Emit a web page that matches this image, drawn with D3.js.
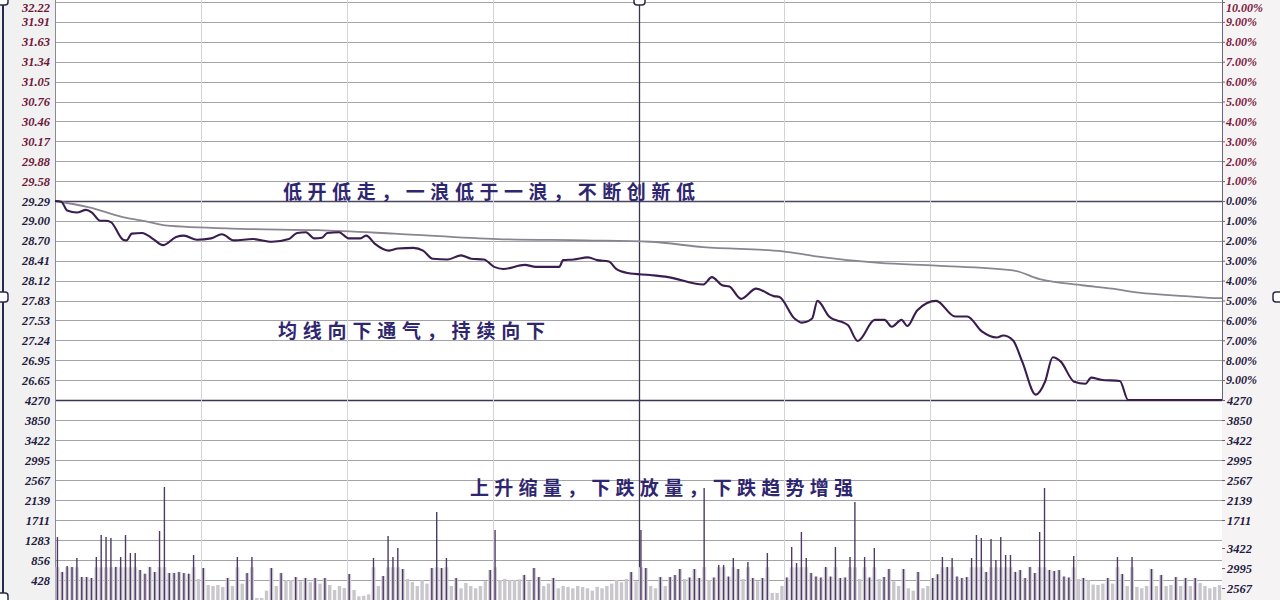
<!DOCTYPE html>
<html><head><meta charset="utf-8">
<script src="https://cdn.jsdelivr.net/npm/d3@7"></script>
<style>
html,body{margin:0;padding:0;background:#fbfbfb;}
svg{display:block;}
</style></head>
<body><svg id="c" width="1280" height="600"></svg>
<script>
// ---------- data ----------
const prevClose = 29.29;
const priceTickLabels = ["32.22","31.91","31.63","31.34","31.05","30.76","30.46","30.17","29.88","29.58","29.29","29.00","28.70","28.41","28.12","27.83","27.53","27.24","26.95","26.65"];
const pctTickLabels = ["10.00%","9.00%","8.00%","7.00%","6.00%","5.00%","4.00%","3.00%","2.00%","1.00%","0.00%","1.00%","2.00%","3.00%","4.00%","5.00%","6.00%","7.00%","8.00%","9.00%"];
const volTickValues = [4270,3843,3416,2989,2562,2135,1708,1281,854,427];
const volTickLabelsLeft = ["4270","3850","3422","2995","2567","2139","1711","1283","856","428"];
const volTickLabelsRight = ["4270","3850","3422","2995","2567","2139","1711"];
const volExtraRightValues = [1110,683,256];
const volExtraRightLabels = ["3422","2995","2567"];

const priceMinutes = [0,1.3,2.5,4.5,6.4,7.6,9.3,10.4,11.5,14,14.7,15.8,17.9,20.2,22.2,24.9,26.5,29.2,32.1,34.3,36.8,40.7,44.6,48.1,49.8,51.6,53.3,54.9,56,58.4,60.4,62.7,64,65.8,68.7,70.5,73.7,75.7,77.7,80.8,83.5,85.6,88.2,90.3,92.2,96.6,98.9,103.7,104.5,106.7,109.6,111.5,113.9,115.4,117.8,122.4,126.1,133.3,135.1,137.2,138.7,141.1,144.2,147.8,148.9,152.1,153.6,155.7,156.8,159.2,163.1,165.1,168.6,170.6,172.1,174.1,175.3,177.3,181.2,185.1,187.6,190.6,193.7,195,197,198.9,201.7,203.6,205.2,206.8,209.6,211.9,213.1,215.1,219,220.7,240];
const priceValues = [29.29,29.28,29.15,29.12,29.16,29.12,29.00,29.00,28.98,28.72,28.71,28.81,28.82,28.73,28.64,28.76,28.78,28.72,28.74,28.80,28.71,28.73,28.69,28.73,28.82,28.83,28.74,28.75,28.82,28.83,28.74,28.74,28.78,28.66,28.56,28.59,28.60,28.56,28.44,28.43,28.49,28.44,28.43,28.32,28.29,28.35,28.32,28.32,28.42,28.43,28.46,28.42,28.40,28.29,28.23,28.20,28.17,28.06,28.17,28.05,28.03,27.85,28.00,27.89,27.88,27.56,27.50,27.56,27.82,27.59,27.46,27.23,27.54,27.54,27.44,27.54,27.45,27.68,27.82,27.59,27.59,27.37,27.28,27.31,27.24,26.93,26.44,26.63,26.99,26.93,26.63,26.60,26.69,26.66,26.64,26.36,26.36];

const avgMinutes = [0,6.8,14.7,19.4,22.6,38.3,54.1,69.7,91.1,109.2,122.4,133.3,149.7,156.1,169.5,181.2,197,202.5,211.2,217.4,222.9,232.4,239.4,240];
const avgValues = [29.29,29.20,29.04,28.98,28.93,28.88,28.86,28.81,28.73,28.71,28.69,28.61,28.55,28.48,28.38,28.34,28.27,28.14,28.05,28.00,27.94,27.89,27.86,27.86];

const volumes = [
1345,600,726,705,897,491,491,470,918,1388,
1345,1324,705,918,1388,1003,1003,641,560,705,
598,1473,2412,576,576,600,576,560,961,450,
683,320,300,320,280,470,300,918,350,576,
918,43,43,200,683,300,576,427,427,491,
400,470,380,470,350,470,320,214,300,256,
555,214,80,90,120,897,300,513,1366,918,
1110,662,450,384,300,427,350,683,1879,683,
897,300,470,250,363,300,250,300,400,641,
1495,427,450,427,427,440,534,400,683,491,
300,350,470,250,300,280,250,300,278,250,
200,280,250,300,350,427,380,450,598,400,
1495,683,300,250,491,300,491,534,662,450,
480,662,470,2391,427,480,747,747,500,897,
662,450,811,470,400,470,1003,150,150,300,
480,1132,790,1452,897,576,500,480,705,500,
1132,470,480,918,2092,450,918,480,1110,450,
491,662,400,300,662,250,200,598,250,300,
470,550,918,705,897,500,470,490,897,1388,
1324,600,1302,854,1345,961,961,600,641,470,
705,576,1452,2391,641,620,641,500,480,939,
450,470,420,330,320,350,470,350,918,555,
300,918,280,250,300,662,300,534,300,320,
491,300,470,300,470,363,300,250,280,320];

const notes = [
  {text:"低开低走，一浪低于一浪，不断创新低", x0:283, x1:695, y:199},
  {text:"均线向下通气，持续向下", x0:278, x1:545, y:338},
  {text:"上升缩量，下跌放量，下跌趋势增强", x0:470, x1:853, y:495}
];

// ---------- drawing ----------
const svg = d3.select("#c");
const L = 55, R = 1222, PT = 2, PB = 400, VB = 600;
const x = d3.scaleLinear().domain([0,240]).range([L,R]);
const yP = d3.scaleLinear().domain([prevClose*0.9, prevClose*1.1]).range([PB,PT]);
const yV = d3.scaleLinear().domain([0,4270]).range([VB,PB]);

// label strips
svg.append("rect").attr("x",0).attr("y",0).attr("width",L).attr("height",600).attr("fill","#f1f1f2");
svg.append("rect").attr("x",R).attr("y",0).attr("width",1280-R).attr("height",600).attr("fill","#f6f3f4");
svg.append("rect").attr("x",L).attr("y",0).attr("width",R-L).attr("height",600).attr("fill","#ffffff");

const pctVals = d3.range(10,-10,-1);               // 10 .. -9
const priceTickVals = pctVals.map(p => prevClose*(1+p/100));

// horizontal gridlines (price)
svg.append("g").selectAll("line").data(priceTickVals).join("line")
  .attr("x1",L).attr("x2",R)
  .attr("y1",d=>Math.round(yP(d))+0.5).attr("y2",d=>Math.round(yP(d))+0.5)
  .attr("stroke",(d,i)=> pctVals[i]===0 ? "#4a4560" : "#a3a3a8").attr("stroke-width",(d,i)=>pctVals[i]===0?1.4:1.1);
// horizontal gridlines (volume)
svg.append("g").selectAll("line").data(volTickValues).join("line")
  .attr("x1",L).attr("x2",R)
  .attr("y1",d=>Math.round(yV(d))+0.5).attr("y2",d=>Math.round(yV(d))+0.5)
  .attr("stroke",(d,i)=> i===0 ? "#3a3550" : "#a3a3a8").attr("stroke-width",(d,i)=>i===0?1.6:1.1);

// vertical gridlines
const vMin = d3.range(30,240,30);
svg.append("g").selectAll("line").data(vMin).join("line")
  .attr("x1",d=>Math.round(x(d))+0.5).attr("x2",d=>Math.round(x(d))+0.5)
  .attr("y1",0).attr("y2",600)
  .attr("stroke",d=> d===120 ? "#3a3550" : "#d4d4d8").attr("stroke-width",d=>d===120?1.3:1);
svg.append("line").attr("x1",L+0.5).attr("x2",L+0.5).attr("y1",0).attr("y2",600).attr("stroke","#8a8a94");
svg.append("line").attr("x1",R+0.5).attr("x2",R+0.5).attr("y1",0).attr("y2",PB).attr("stroke","#6a6478");

// volume bars
const minutes = d3.range(volumes.length);
const darkThr = 460;
svg.append("g").selectAll("rect").data(minutes.filter(m=>volumes[m]<darkThr)).join("rect")
  .attr("x",m=>x(m+0.5)-1.7).attr("width",3.4)
  .attr("y",m=>yV(volumes[m])).attr("height",m=>VB-yV(volumes[m]))
  .attr("fill","#c9c7cc");
svg.append("g").selectAll("rect").data(minutes.filter(m=>volumes[m]>=darkThr)).join("rect")
  .attr("x",m=>x(m+0.5)-2).attr("width",4)
  .attr("y",m=>yV(Math.min(volumes[m],700))).attr("height",m=>VB-yV(Math.min(volumes[m],700)))
  .attr("fill","#d2d0d5");
svg.append("g").selectAll("line").data(minutes.filter(m=>volumes[m]>=darkThr)).join("line")
  .attr("x1",m=>x(m+0.5)).attr("x2",m=>x(m+0.5))
  .attr("y1",m=>yV(volumes[m])).attr("y2",VB)
  .attr("stroke","#4e3a66").attr("stroke-width",1.4);

// average line
const avgLine = d3.line().x((d,i)=>x(avgMinutes[i])).y(d=>yP(d)).curve(d3.curveMonotoneX);
svg.append("path").attr("d",avgLine(avgValues)).attr("fill","none")
  .attr("stroke","#8a8590").attr("stroke-width",1.8);
// price line
const pLine = d3.line().x((d,i)=>x(priceMinutes[i])).y(d=>yP(d)).curve(d3.curveMonotoneX);
svg.append("path").attr("d",pLine(priceValues)).attr("fill","none")
  .attr("stroke","#3a1d4e").attr("stroke-width",2.1).attr("stroke-linejoin","round");

// axes labels
const lblFont = "'Liberation Serif', serif";
function styleLbl(sel, colorFn){
  sel.selectAll("text").attr("font-family",lblFont).attr("font-weight","bold").attr("font-size",12.5)
    .attr("font-style","italic").attr("fill",colorFn);
}
const leftAx = d3.axisLeft(yP).tickValues(priceTickVals).tickSize(0).tickPadding(5)
  .tickFormat((d,i)=>priceTickLabels[i]);
const gl = svg.append("g").attr("transform",`translate(${L},0)`).call(leftAx);
gl.select(".domain").remove();
styleLbl(gl,(d,i)=> pctVals[i]>0 ? "#6e1838" : "#1e1a40");
gl.selectAll("text").filter((d,i)=>i===0).attr("dy","0.75em");

const leftVAx = d3.axisLeft(yV).tickValues(volTickValues).tickSize(0).tickPadding(5)
  .tickFormat((d,i)=>volTickLabelsLeft[i]);
const glv = svg.append("g").attr("transform",`translate(${L},0)`).call(leftVAx);
glv.select(".domain").remove();
styleLbl(glv,"#1e1a40");

const rightAx = d3.axisRight(yP).tickValues(priceTickVals).tickSize(3).tickPadding(1)
  .tickFormat((d,i)=>pctTickLabels[i]);
const gr = svg.append("g").attr("transform",`translate(${R},0)`).call(rightAx);
gr.select(".domain").remove();
gr.selectAll("line").attr("stroke","#6a6478");
styleLbl(gr,(d,i)=> pctVals[i]>0 ? "#7a1a3c" : "#1e1a40");
gr.selectAll("text").attr("font-size",12);
gr.selectAll("text").filter((d,i)=>i===0).attr("dy","0.75em");

const rightVAx = d3.axisRight(yV).tickValues(volTickValues.slice(0,7)).tickSize(3).tickPadding(2)
  .tickFormat((d,i)=>volTickLabelsRight[i]);
const grv = svg.append("g").attr("transform",`translate(${R},0)`).call(rightVAx);
grv.select(".domain").remove();
grv.selectAll("line").attr("stroke","#6a6478");
styleLbl(grv,"#1e1a40");

const rightVAx2 = d3.axisRight(yV).tickValues(volExtraRightValues).tickSize(3).tickPadding(2)
  .tickFormat((d,i)=>volExtraRightLabels[i]);
const grv2 = svg.append("g").attr("transform",`translate(${R},0)`).call(rightVAx2);
grv2.select(".domain").remove();
grv2.selectAll("line").attr("stroke","#6a6478");
styleLbl(grv2,"#1e1a40");

// annotations
svg.append("g").selectAll("text").data(notes).join("text")
  .attr("x",d=>d.x0).attr("y",d=>d.y)
  .attr("textLength",d=>d.x1-d.x0).attr("lengthAdjust","spacing")
  .attr("font-family","'Noto Sans CJK SC', sans-serif").attr("font-size",19).attr("font-weight",700)
  .attr("fill","#2f2670").text(d=>d.text);

// frame / selection handles
svg.append("line").attr("x1",3).attr("x2",3).attr("y1",0).attr("y2",600).attr("stroke","#2a2a4a").attr("stroke-width",2);
const handles = [[-3,-5],[-3,292],[-3,593],[634,-5],[1273,292]];
svg.append("g").selectAll("rect").data(handles).join("rect")
  .attr("x",d=>d[0]).attr("y",d=>d[1]).attr("width",11).attr("height",10).attr("rx",3)
  .attr("fill","#ffffff").attr("stroke","#2a2a4a").attr("stroke-width",1.5);
</script></body></html>
